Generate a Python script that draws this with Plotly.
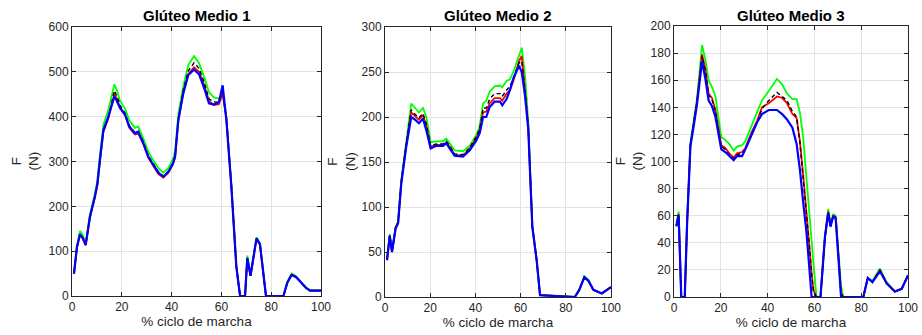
import plotly.graph_objects as go

# ---------------- data ----------------
TITLES = ["Glúteo Medio 1", "Glúteo Medio 2", "Glúteo Medio 3"]
X_LABEL = "% ciclo de marcha"
Y_LABEL = "F<br>(N)"

P1_X = [0.8, 2, 3.2, 4.3, 5.5, 7.2, 9.2, 10.2, 11.2, 12.6,
        14.6, 17, 18, 19.3, 21.3, 23, 25.3, 26.6, 28.6, 30.6,
        32.7, 34.7, 36.7, 38.7, 40.5, 41.4, 42.7, 44.7, 46.7, 49,
        51, 53, 55, 57, 59, 60.5, 62, 64, 66, 67.5,
        69.5, 70.4, 71.7, 74.1, 75.5, 77, 77.9, 84.9, 86.5, 88.2,
        90, 92, 94, 95.6, 100]
P1_BLUE = [50, 110, 138, 130, 114, 177, 222, 250, 303, 370,
           400, 445, 435, 419, 404, 378, 363, 367, 341, 311,
           292, 275, 266, 277, 295, 311, 393, 452, 493, 505,
           495, 465, 430, 427, 432, 470, 393, 244, 65, 0,
           0, 85, 45, 129, 115, 50, 0, 0, 30, 47,
           42, 30, 18, 12, 12]
P1_GREEN = [50, 112, 145, 137, 118, 182, 228, 258, 312, 382,
            415, 472, 460, 435, 418, 392, 375, 378, 352, 322,
            302, 285, 275, 285, 305, 322, 405, 468, 515, 535,
            520, 490, 455, 443, 440, 450, 395, 248, 67, 0,
            0, 90, 48, 131, 117, 52, 0, 0, 32, 50,
            44, 31, 19, 13, 13]
P1_RED = [50, 108, 136, 128, 113, 175, 220, 248, 300, 366,
          396, 450, 440, 421, 405, 375, 360, 362, 340, 309,
          290, 272, 264, 275, 293, 309, 390, 455, 495, 510,
          500, 472, 435, 426, 428, 452, 398, 246, 66, 0,
          0, 82, 45, 127, 114, 50, 0, 0, 30, 48,
          43, 30, 18, 12, 12]
P1_BLACK = [50, 109, 137, 129, 114, 176, 221, 249, 301, 367,
            398, 458, 446, 425, 408, 380, 364, 365, 345, 313,
            295, 277, 267, 278, 296, 312, 395, 460, 502, 520,
            508, 478, 440, 433, 432, 458, 396, 246, 66, 0,
            0, 83, 45, 128, 115, 50, 0, 0, 30, 48,
            43, 30, 18, 12, 12]

P2_X = [0.9, 2.1, 3.1, 4.7, 5.8, 7.2, 9.4, 11.6, 13.3, 15,
        16.8, 18.3, 20.2, 22.7, 25.7, 27.1, 28.6, 30.8, 34.5, 37.5,
        40.4, 41.9, 43.4, 44.8, 46.3, 48.5, 50.9, 51.9, 53.8, 55.3,
        56.8, 59.3, 60.5, 62, 63.4, 64.2, 65.2, 67.1, 68.6, 84,
        86, 88.2, 90, 92.2, 95.9, 100]
P2_BLUE = [41, 68, 50, 76, 82, 126, 167, 200, 197, 193,
           198, 185, 165, 168, 168, 171, 165, 157, 156, 163,
           174, 182, 200, 200, 211, 217, 217, 213, 220, 230,
           243, 257, 250, 223, 186, 137, 78, 41, 2, 0,
           8, 22, 18, 8, 4, 11]
P2_GREEN = [42, 70, 52, 78, 84, 130, 172, 215, 210, 205,
            210, 200, 172, 173, 173, 176, 171, 163, 162, 168,
            180, 190, 215, 218, 228, 234, 235, 233, 240, 242,
            250, 270, 277, 245, 195, 140, 79, 41, 2, 0,
            9, 23, 19, 8, 4, 11]
P2_RED = [41, 68, 50, 77, 83, 127, 169, 205, 201, 197,
          202, 190, 167, 169, 169, 172, 167, 158, 157, 165,
          176, 185, 205, 206, 215, 221, 221, 218, 226, 230,
          240, 262, 268, 230, 190, 138, 78, 41, 2, 0,
          8, 22, 18, 8, 4, 11]
P2_BLACK = [41, 69, 51, 77, 83, 128, 170, 208, 203, 199,
            204, 192, 168, 170, 170, 173, 168, 159, 158, 166,
            178, 187, 210, 210, 220, 226, 226, 223, 230, 234,
            243, 260, 262, 228, 188, 138, 78, 41, 2, 0,
            8, 22, 18, 8, 4, 11]

P3_X = [1.0, 2.0, 3.1, 4.6, 5.6, 7.0, 8.4, 9.8, 12, 13.4,
        14.8, 16.2, 17.7, 19.1, 20.2, 21.9, 23.6, 25.5, 26.9, 29.1,
        30.5, 33.3, 35.5, 37.6, 40.5, 44, 46.2, 48.3, 50.6, 52.4,
        53.8, 55.2, 56.6, 58, 58.8, 59.6, 60.9, 62.6, 64.5, 65.9,
        66.9, 68.1, 69.1, 70.2, 71.4, 72.4, 80.9, 82.8, 84.8, 88,
        90.9, 94.4, 97.3, 100]
P3_BLUE = [52, 60, 0, 0, 54, 111, 126, 142, 174, 161,
           145, 141, 133, 119, 109, 107, 104, 101, 104, 104,
           109, 120, 129, 135, 138, 138, 135, 131, 125, 113,
           94, 70, 48, 18, 0, 0, 0, 0, 44, 62,
           52, 60, 58, 27, 0, 0, 0, 14, 11, 19,
           10, 4, 6, 16]
P3_GREEN = [55, 63, 0, 0, 56, 114, 130, 146, 186, 175,
            160, 155, 148, 130, 118, 116, 113, 108, 111, 112,
            115, 127, 137, 145, 152, 161, 157, 150, 146, 146,
            136, 118, 88, 56, 40, 25, 0, 0, 45, 65,
            55, 61, 60, 35, 8, 0, 0, 14, 12, 21,
            11, 4, 6, 16]
P3_RED = [53, 61, 0, 0, 55, 112, 128, 144, 179, 168,
          150, 147, 138, 124, 112, 110, 106, 103, 106, 107,
          110, 122, 130, 140, 143, 148, 147, 143, 135, 132,
          115, 90, 65, 35, 18, 5, 0, 0, 44, 63,
          53, 60, 59, 30, 3, 0, 0, 14, 11, 20,
          10, 4, 6, 16]
P3_BLACK = [53, 61, 0, 0, 55, 112, 128, 144, 178, 167,
            149, 146, 137, 123, 111, 109, 105, 102, 105, 106,
            109, 121, 129, 139, 145, 151, 148, 145, 137, 133,
            114, 89, 64, 34, 17, 4, 0, 0, 44, 62,
            52, 60, 58, 29, 2, 0, 0, 14, 11, 20,
            10, 4, 6, 16]

Y_RANGES = [[0, 600], [0, 300], [0, 200]]
Y_DTICKS = [100, 50, 20]

PANELS = [
    (P1_X, P1_GREEN, P1_RED, P1_BLACK, P1_BLUE),
    (P2_X, P2_GREEN, P2_RED, P2_BLACK, P2_BLUE),
    (P3_X, P3_GREEN, P3_RED, P3_BLACK, P3_BLUE),
]

# ---------------- layout geometry (pixels) ----------------
W, H = 922, 335
PLOT_BOX = [(72, 321, 27, 296), (385, 611, 27, 297), (674, 908, 26, 297)]
YLAB_X = [25, 341, 629]

FONT = "Liberation Sans, Arial, Helvetica, sans-serif"
AX_COLOR = "#262626"
GRID = "#e3e3e3"

fig = go.Figure()
for i, (x, g, r, k, b) in enumerate(PANELS):
    ax = "" if i == 0 else str(i + 1)
    xa, ya = "x" + ax, "y" + ax
    fig.add_trace(go.Scatter(x=x, y=g, mode="lines", line=dict(color="#00ff00", width=1.8),
                             xaxis=xa, yaxis=ya, showlegend=False))
    fig.add_trace(go.Scatter(x=x, y=r, mode="lines", line=dict(color="#ff0000", width=1.8),
                             xaxis=xa, yaxis=ya, showlegend=False))
    fig.add_trace(go.Scatter(x=x, y=k, mode="lines", line=dict(color="#000000", width=1.4, dash="4px,3px"),
                             xaxis=xa, yaxis=ya, showlegend=False))
    fig.add_trace(go.Scatter(x=x, y=b, mode="lines", line=dict(color="#0000ff", width=2.2),
                             xaxis=xa, yaxis=ya, showlegend=False))

    x0, x1, yt, yb = PLOT_BOX[i]
    common = dict(showline=True, linecolor=AX_COLOR, linewidth=1, mirror="ticks",
                  ticks="inside", ticklen=4, tickcolor=AX_COLOR,
                  showgrid=True, gridcolor=GRID, gridwidth=1, zeroline=False,
                  automargin=False,
                  tickfont=dict(family=FONT, size=12, color=AX_COLOR))
    fig.layout["xaxis" + ax] = dict(
        domain=[x0 / W, x1 / W], anchor=ya, range=[0, 100], dtick=20, tick0=0,
        title=dict(text=X_LABEL, font=dict(family=FONT, size=13.5, color=AX_COLOR), standoff=2),
        **common)
    fig.layout["yaxis" + ax] = dict(
        domain=[1 - yb / H, 1 - yt / H], anchor=xa, range=Y_RANGES[i], dtick=Y_DTICKS[i], tick0=0,
        **common)
    fig.add_annotation(x=(x0 + x1) / 2 / W, y=1 - 15 / H, xref="paper", yref="paper",
                       text="<b>" + TITLES[i] + "</b>", showarrow=False,
                       font=dict(family=FONT, size=15, color="#000000"),
                       xanchor="center", yanchor="middle")
    fig.add_annotation(x=YLAB_X[i] / W, y=1 - ((yt + yb) / 2) / H, xref="paper", yref="paper",
                       text=Y_LABEL, showarrow=False, textangle=-90,
                       font=dict(family=FONT, size=13.5, color=AX_COLOR),
                       xanchor="center", yanchor="middle")

fig.update_layout(width=W, height=H, margin=dict(l=0, r=0, t=0, b=0, autoexpand=False),
                  paper_bgcolor="white", plot_bgcolor="white")
fig.write_html("out.html", config={"displayModeBar": False, "staticPlot": True},
               post_script="document.body.style.margin='0px';document.body.style.overflow='hidden';")
